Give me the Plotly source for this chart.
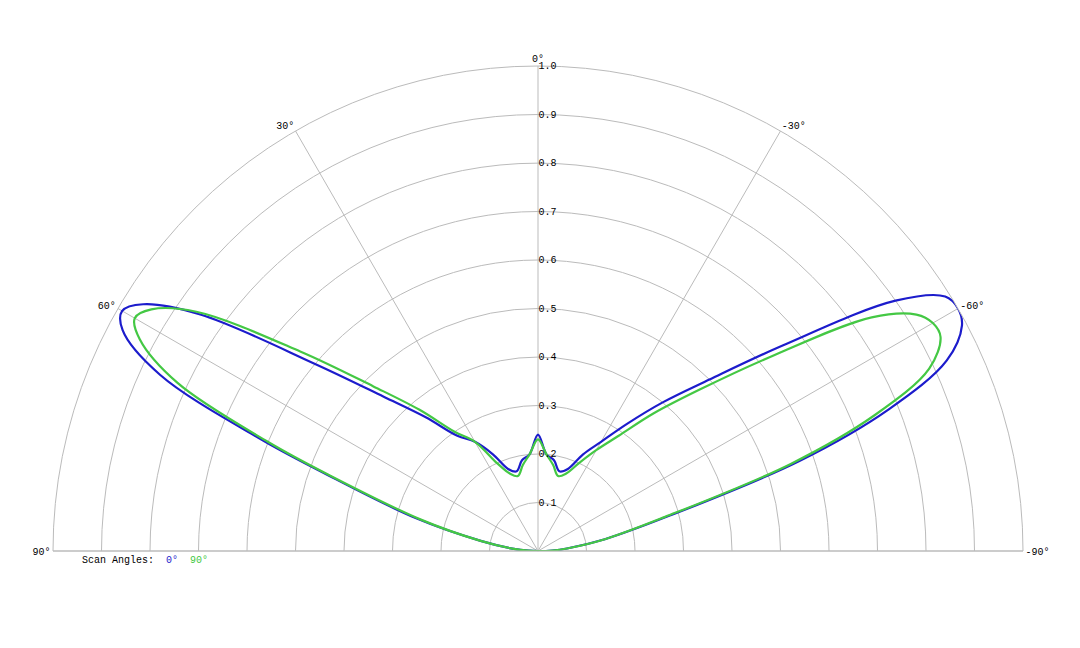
import plotly.graph_objects as go

# angles in degrees (scan direction), radius normalised
theta = [-90, -88, -85, -80, -75, -71, -68, -65, -62, -60, -58, -55, -50, -45, -40, -35,
         -30, -25, -20, -15, -10, -5, 0, 5, 10, 15, 20, 25, 30, 35, 40, 45, 50, 55, 58,
         60, 62, 65, 68, 70, 75, 80, 85, 88, 90]
r_blue = [0.0, 0.03, 0.06, 0.14, 0.28, 0.57, 0.78, 0.93, 0.99, 1.0, 0.99, 0.9, 0.66,
          0.5, 0.4, 0.32, 0.26, 0.22, 0.18, 0.17, 0.19, 0.2, 0.24, 0.2, 0.19, 0.17,
          0.18, 0.22, 0.26, 0.29, 0.36, 0.45, 0.6, 0.85, 0.96, 0.99, 0.97, 0.86, 0.62,
          0.47, 0.26, 0.12, 0.05, 0.02, 0.0]
r_green = [0.0, 0.03, 0.06, 0.14, 0.27, 0.55, 0.75, 0.89, 0.94, 0.94, 0.92, 0.84, 0.62,
           0.47, 0.37, 0.29, 0.24, 0.2, 0.17, 0.16, 0.18, 0.2, 0.23, 0.2, 0.18, 0.16,
           0.17, 0.2, 0.26, 0.3, 0.38, 0.48, 0.64, 0.86, 0.94, 0.96, 0.93, 0.82, 0.6,
           0.46, 0.25, 0.12, 0.05, 0.02, 0.0]

tick_angles = [-90, -60, -30, 0, 30, 60, 90]
tick_text = [f"{a}°" for a in tick_angles]
r_ticks = [0.1, 0.2, 0.3, 0.4, 0.5, 0.6, 0.7, 0.8, 0.9, 1.0]

font = dict(family="Liberation Mono, monospace", size=10, color="#000")

fig = go.Figure()
fig.add_trace(go.Scatterpolar(r=r_blue, theta=theta, mode="lines",
                              line=dict(color="#1c1ccc", width=2.2, shape="spline")))
fig.add_trace(go.Scatterpolar(r=r_green, theta=theta, mode="lines",
                              line=dict(color="#44c844", width=2.2, shape="spline")))

fig.update_layout(
    width=1080, height=648,
    showlegend=False,
    paper_bgcolor="white",
    font=font,
    margin=dict(l=45, r=65, t=58, b=105),
    polar=dict(
        sector=[0, 180],
        bgcolor="white",
        angularaxis=dict(rotation=90, direction="counterclockwise",
                         tickmode="array", tickvals=tick_angles, ticktext=tick_text,
                         gridcolor="#bbbbbb", linecolor="#bbbbbb", ticks="",
                         tickfont=font),
        radialaxis=dict(range=[0, 1.0], angle=90, tickangle=90,
                        tickmode="array", tickvals=r_ticks,
                        ticktext=[f"{v:.1f}" for v in r_ticks],
                        gridcolor="#bbbbbb", showline=False, ticks="",
                        tickfont=font),
    ),
)
fig.add_annotation(x=0.028, y=-0.035, xref="paper", yref="paper", showarrow=False,
                   xanchor="left", font=font,
                   text="Scan Angles:  <span style='color:#1c1ccc'>0°</span>  "
                        "<span style='color:#44c844'>90°</span>")

fig.write_html("out.html")
